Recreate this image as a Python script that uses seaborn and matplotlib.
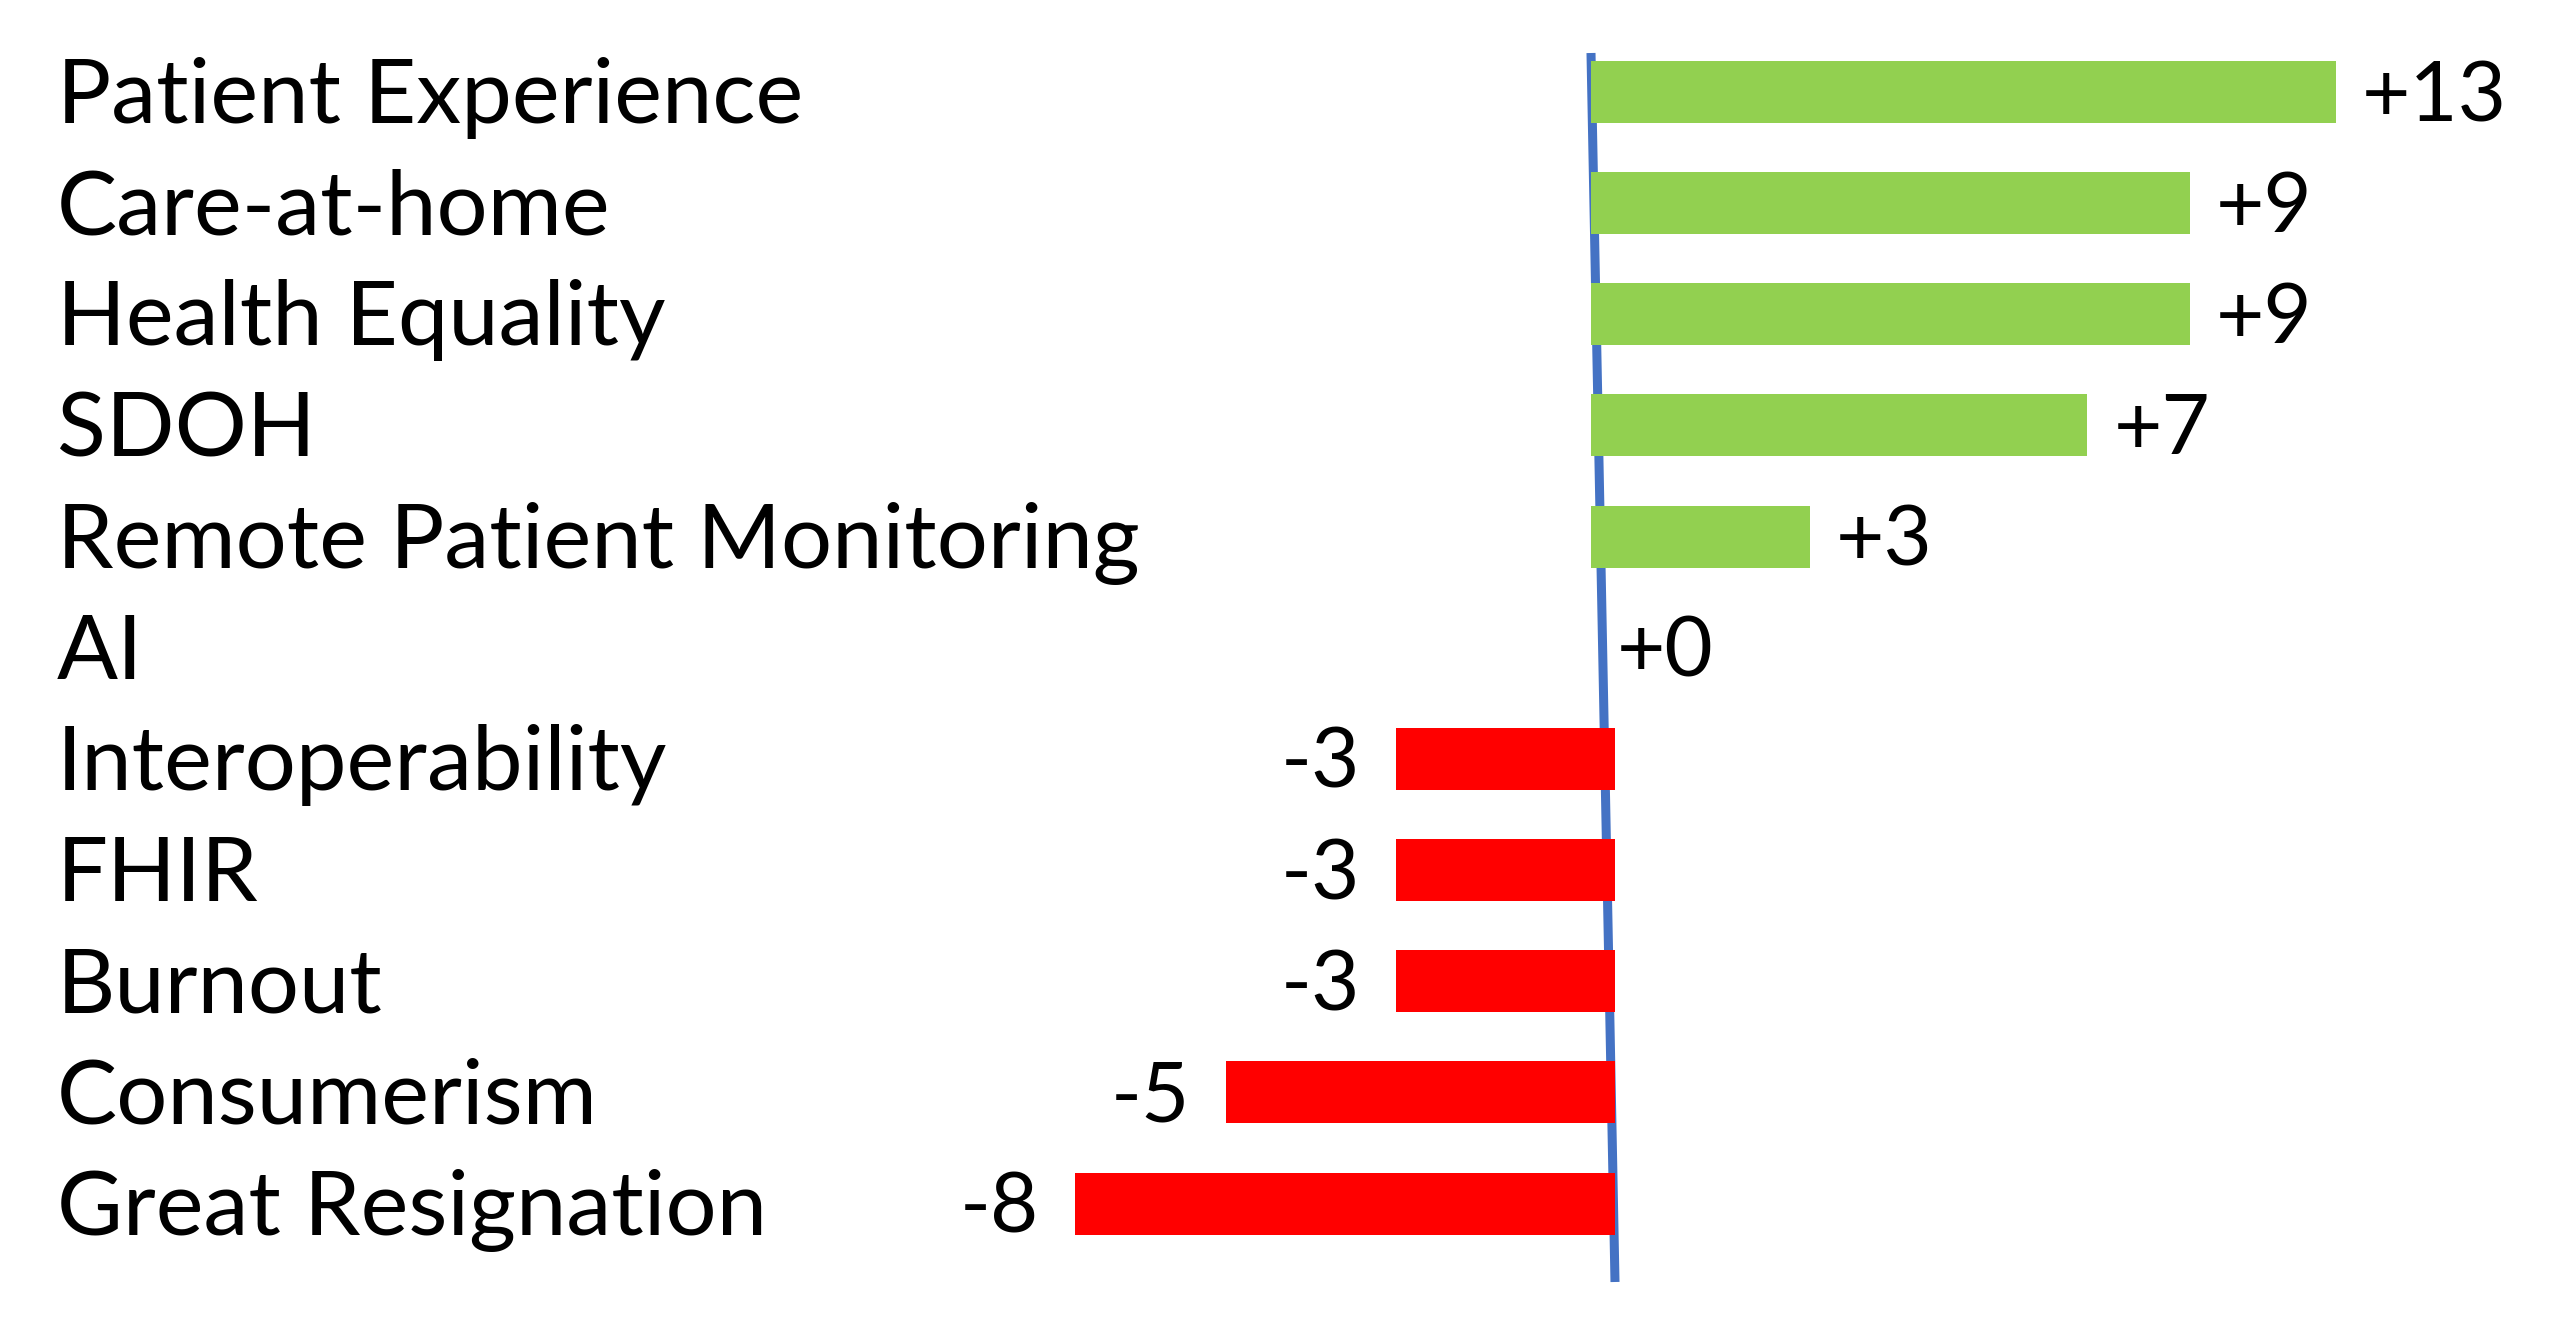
import matplotlib
matplotlib.use("Agg")
import matplotlib.pyplot as plt
import matplotlib.transforms as mtransforms
import seaborn as sns
import pandas as pd

# ---- data ----
topics = ["Patient Experience", "Care-at-home", "Health Equality", "SDOH",
          "Remote Patient Monitoring", "AI", "Interoperability", "FHIR",
          "Burnout", "Consumerism", "Great Resignation"]
bar_values = [10.2, 8.2, 8.2, 6.8, 3.0, 0.0, -3.0, -3.0, -3.0, -5.33, -7.4]
value_labels = ["+13", "+9", "+9", "+7", "+3", "+0", "-3", "-3", "-3", "-5", "-8"]

df = pd.DataFrame({"topic": topics, "value": bar_values,
                   "sign": ["pos" if v >= 0 else "neg" for v in bar_values]})

# ---- style ----
GREEN = "#92D050"
RED = "#FF0000"
BLUE = "#4472C4"
W, H, DPI = 2560, 1326, 100
PX_PER_UNIT = 73.0
ZERO_PX = 1591.0
ROW0_PX, ROW_STEP_PX = 92.0, 111.15

sns.set_theme(style="white")
plt.rcParams["font.family"] = ["Lato", "DejaVu Sans"]

fig = plt.figure(figsize=(W / DPI, H / DPI), dpi=DPI)
fig.patch.set_facecolor("white")
ax = fig.add_axes([0, 0, 1, 1])

sns.barplot(data=df, x="value", y="topic", hue="sign",
            palette={"pos": GREEN, "neg": RED}, order=topics,
            width=62 / ROW_STEP_PX, dodge=False, saturation=1,
            legend=False, linewidth=0, ax=ax, zorder=3)

# negative bars sit against the right side of the (slanted) zero line
neg_shift = mtransforms.ScaledTranslation(24 / DPI, 0, fig.dpi_scale_trans)
for patch, v in zip(ax.patches, bar_values):
    if v < 0:
        patch.set_transform(ax.transData + neg_shift)

ax.set_xlim(-ZERO_PX / PX_PER_UNIT, (W - ZERO_PX) / PX_PER_UNIT)
ax.set_ylim((H - ROW0_PX) / ROW_STEP_PX, -ROW0_PX / ROW_STEP_PX)

# slanted zero axis line
y_top = (53 - ROW0_PX) / ROW_STEP_PX
y_bot = (1282 - ROW0_PX) / ROW_STEP_PX
ax.plot([0, 24 / PX_PER_UNIT], [y_top, y_bot], color=BLUE, lw=6.5,
        solid_capstyle="butt", zorder=2)

# category labels on the left
lab_tr = mtransforms.offset_copy(
    mtransforms.blended_transform_factory(ax.transAxes, ax.transData),
    fig=fig, x=0, y=-31, units="dots")
for i, t in enumerate(topics):
    ax.text(57 / W, i, t, transform=lab_tr, ha="left", va="baseline",
            fontsize=65, color="black")

# value labels
pos_tr = mtransforms.offset_copy(ax.transData, fig=fig, x=26, y=-29, units="dots")
neg_tr = mtransforms.offset_copy(ax.transData, fig=fig, x=24 - 36, y=-29, units="dots")
for i, (v, s) in enumerate(zip(bar_values, value_labels)):
    if v >= 0:
        ax.text(v, i, s, transform=pos_tr, ha="left", va="baseline",
                fontsize=60, color="black")
    else:
        ax.text(v, i, s, transform=neg_tr, ha="right", va="baseline",
                fontsize=60, color="black")

ax.set_axis_off()
fig.savefig("out.png", dpi=DPI, facecolor="white")
